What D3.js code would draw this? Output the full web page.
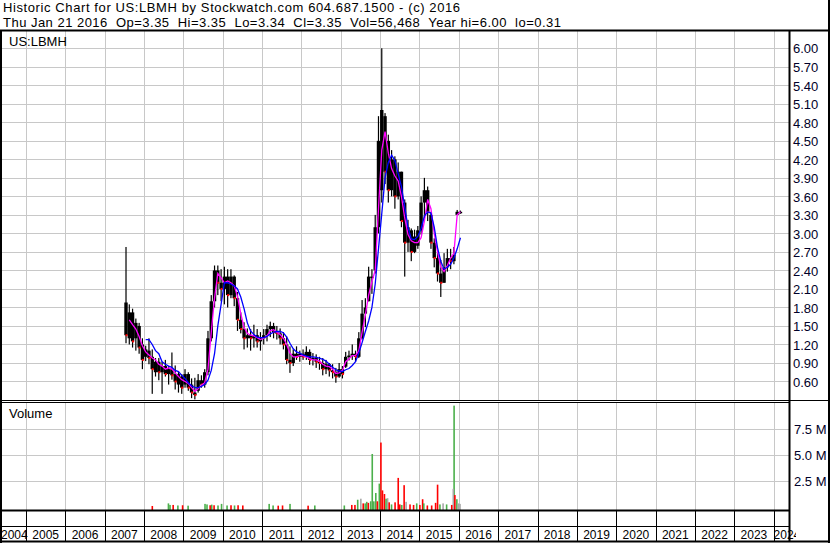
<!DOCTYPE html>
<html>
<head>
<meta charset="utf-8">
<script src="https://cdn.jsdelivr.net/npm/d3@7"></script>
<style>
  body { margin: 0; background: #fff; }
  svg text { font-family: "Liberation Sans", Arial, sans-serif; }
</style>
</head>
<body>
<script>
// monthly bars, first month Jul 2007, last Jan 2016
var firstYear = 2007, firstMonth = 6;

var open = [
  1.88, 1.30, 1.72, 1.30, 1.50, 1.20,
  1.00, 1.10, 1.00, 0.75, 0.92, 0.75, 0.85, 0.72, 0.80, 0.72, 0.55, 0.68,
  0.55, 0.72, 0.55, 0.42, 0.45, 0.62, 0.55, 0.75, 1.30, 1.90, 2.40, 2.20,
  2.10, 2.30, 2.00, 2.30, 1.95, 1.60, 1.45, 1.30, 1.35, 1.30, 1.35, 1.25,
  1.30, 1.35, 1.45, 1.50, 1.40, 1.38, 1.30, 1.20, 0.95, 0.90, 1.05, 1.00,
  1.05, 1.00, 1.08, 0.95, 0.98, 0.92, 0.90, 0.80, 0.88, 0.78, 0.75, 0.68,
  0.80, 0.84, 1.00, 1.02, 1.05, 1.00, 1.30, 1.70, 1.90, 2.30, 2.40, 3.10,
  3.70, 4.90, 4.50, 3.70, 4.20, 3.60, 4.00, 3.50, 2.85, 3.05, 2.70, 2.80,
  3.05, 3.50, 3.70, 3.30, 2.85, 2.60, 2.35, 2.20, 2.45, 2.60, 2.55, 3.30,
  3.35
];
var high = [
  2.78, 1.85, 1.78, 1.62, 1.55, 1.30,
  1.18, 1.30, 1.12, 0.98, 0.98, 0.92, 0.95, 0.85, 1.07, 0.86, 0.76, 0.72,
  0.80, 0.75, 0.65, 0.66, 0.72, 0.70, 0.80, 1.42, 2.00, 2.48, 2.48, 2.42,
  2.46, 2.42, 2.42, 2.32, 2.05, 1.72, 1.56, 1.46, 1.45, 1.52, 1.45, 1.40,
  1.45, 1.52, 1.57, 1.55, 1.50, 1.46, 1.40, 1.33, 1.17, 1.12, 1.17, 1.10,
  1.12, 1.17, 1.12, 1.06, 1.04, 1.00, 0.98, 0.95, 0.90, 0.88, 0.82, 0.90,
  0.85, 1.08, 1.10, 1.20, 1.10, 1.40, 1.92, 1.95, 2.46, 2.42, 3.30, 4.90,
  6.00, 4.95, 4.60, 4.35, 4.25, 4.15, 4.00, 3.55, 3.22, 3.08, 3.06, 3.12,
  3.60, 3.90, 3.76, 3.35, 2.92, 2.70, 2.57, 2.68, 2.75, 2.75, 2.78, 3.38,
  3.37
];
var low = [
  1.22, 1.20, 1.15, 1.10, 1.05, 0.80,
  0.93, 0.88, 0.40, 0.68, 0.62, 0.40, 0.68, 0.55, 0.63, 0.47, 0.42, 0.40,
  0.50, 0.45, 0.33, 0.31, 0.42, 0.50, 0.50, 0.70, 1.25, 1.80, 2.00, 1.90,
  1.85, 1.80, 1.95, 1.82, 1.42, 1.38, 1.12, 1.15, 1.10, 1.15, 1.15, 1.10,
  1.20, 1.25, 1.32, 1.30, 1.28, 1.20, 1.12, 0.88, 0.74, 0.85, 0.95, 0.92,
  0.95, 0.95, 0.87, 0.86, 0.82, 0.79, 0.70, 0.72, 0.68, 0.65, 0.58, 0.66,
  0.65, 0.82, 0.94, 0.95, 0.92, 0.98, 1.28, 1.48, 1.90, 2.02, 2.35, 3.00,
  3.50, 3.80, 3.50, 3.60, 3.40, 3.55, 3.10, 2.30, 2.70, 2.55, 2.68, 2.75,
  2.98, 3.25, 3.20, 2.75, 2.45, 2.22, 1.97, 2.20, 2.38, 2.42, 2.50, 3.30,
  3.32
];
var close = [
  1.35, 1.72, 1.25, 1.55, 1.15, 0.95,
  1.12, 0.98, 0.80, 0.92, 0.75, 0.85, 0.72, 0.80, 0.70, 0.60, 0.72, 0.50,
  0.72, 0.50, 0.42, 0.38, 0.62, 0.55, 0.75, 1.30, 1.90, 2.40, 2.20, 2.10,
  2.30, 2.00, 2.30, 1.95, 1.60, 1.45, 1.30, 1.35, 1.30, 1.35, 1.25, 1.30,
  1.35, 1.45, 1.50, 1.40, 1.38, 1.30, 1.20, 0.95, 0.90, 1.05, 1.00, 1.05,
  1.00, 1.08, 0.95, 0.98, 0.92, 0.90, 0.80, 0.88, 0.78, 0.75, 0.68, 0.80,
  0.72, 1.00, 1.02, 1.05, 1.00, 1.30, 1.70, 1.80, 2.30, 2.30, 3.10, 4.50,
  5.00, 4.00, 3.70, 4.20, 3.60, 4.00, 3.20, 2.85, 3.10, 2.70, 2.95, 3.05,
  3.50, 3.70, 3.35, 2.85, 2.60, 2.35, 2.20, 2.45, 2.60, 2.55, 2.65, 3.35,
  3.35
];
// short (magenta) and long (blue) moving averages as drawn
var maShort = [
  null, 1.60, 1.52, 1.45, 1.33, 1.18,
  1.08, 1.03, 0.98, 0.95, 0.88, 0.85, 0.80, 0.82, 0.80, 0.74, 0.68, 0.63,
  0.60, 0.57, 0.50, 0.44, 0.48, 0.54, 0.58, 0.80, 1.40, 1.95, 2.35, 2.28,
  2.20, 2.23, 2.20, 2.15, 1.98, 1.70, 1.48, 1.38, 1.35, 1.34, 1.31, 1.28,
  1.30, 1.34, 1.42, 1.44, 1.40, 1.36, 1.30, 1.20, 1.06, 1.00, 1.00, 1.02,
  1.02, 1.00, 0.97, 0.95, 0.95, 0.93, 0.88, 0.85, 0.84, 0.80, 0.73, 0.74,
  0.78, 0.92, 0.97, 1.02, 1.02, 1.10, 1.40, 1.68, 2.00, 2.22, 2.40, 3.40,
  4.35, 4.65, 4.30, 4.05, 3.93, 3.85, 3.60, 3.25, 2.98, 2.88, 2.85, 2.85,
  2.93, 3.20, 3.55, 3.40, 3.00, 2.70, 2.45, 2.38, 2.48, 2.60, 2.68, 3.30,
  3.35
];
var maLong = [
  null, null, null, null, null, null,
  1.28, 1.28, 1.20, 1.10, 1.05, 0.92, 0.88, 0.85, 0.83, 0.78, 0.76, 0.70,
  0.65, 0.58, 0.53, 0.50, 0.50, 0.52, 0.55, 0.62, 0.78, 1.05, 1.50, 1.85,
  2.20, 2.20, 2.18, 2.15, 2.10, 1.97, 1.78, 1.55, 1.42, 1.36, 1.32, 1.31,
  1.31, 1.33, 1.37, 1.40, 1.41, 1.41, 1.39, 1.32, 1.22, 1.13, 1.08, 1.06,
  1.03, 1.01, 1.00, 1.00, 0.99, 0.98, 0.96, 0.93, 0.88, 0.83, 0.79, 0.77,
  0.76, 0.79, 0.81, 0.86, 0.92, 1.06, 1.23, 1.41, 1.58, 1.80, 2.18, 2.75,
  3.32, 3.90, 4.15, 4.27, 4.18, 3.97, 3.76, 3.43, 3.10, 2.91, 2.90, 2.95,
  3.08, 3.28, 3.35, 3.33, 3.10, 2.77, 2.55, 2.42, 2.45, 2.50, 2.60, 2.75,
  2.93
];

// volume bars (date as decimal year, millions, g=up r=down n=unchanged)
var volDates = [
  2008.21, 2008.62, 2008.66, 2008.74, 2008.86, 2008.98, 2009.12,
  2009.55, 2009.60, 2009.68, 2009.72, 2009.78, 2009.88, 2009.97, 2010.11, 2010.21, 2010.30, 2010.39, 2010.51,
  2011.18, 2011.28, 2011.41, 2011.52, 2011.71, 2012.17, 2012.34,
  2013.09, 2013.28, 2013.36, 2013.43, 2013.51, 2013.57, 2013.62, 2013.66, 2013.70, 2013.76, 2013.80,
  2013.84, 2013.89, 2013.93, 2013.98, 2014.02, 2014.06, 2014.11, 2014.15, 2014.19, 2014.23, 2014.29,
  2014.38, 2014.46, 2014.50, 2014.55, 2014.61, 2014.66, 2014.76, 2014.85, 2014.93, 2015.01, 2015.08,
  2015.11, 2015.20, 2015.31, 2015.41, 2015.46, 2015.52, 2015.60, 2015.69, 2015.82, 2015.86, 2015.88,
  2015.90, 2015.95, 2015.99, 2016.03
];
var volValues = [
  0.05, 0.30, 0.15, 0.15, 0.10, 0.12, 0.08,
  0.25, 0.20, 0.12, 0.18, 0.12, 0.10, 0.25, 0.10, 0.12, 0.10, 0.12, 0.10,
  0.25, 0.10, 0.08, 0.10, 0.25, 0.08, 0.10,
  0.10, 0.15, 0.15, 0.65, 0.75, 0.30, 0.30, 0.45, 0.35, 0.50, 5.05,
  0.50, 1.30, 0.50, 2.20, 6.15, 1.55, 1.20, 0.75, 0.80, 0.40, 0.20,
  0.40, 2.75, 0.20, 0.15, 2.05, 0.45, 0.20, 0.15, 0.30, 0.15, 0.70,
  0.30, 0.10, 0.10, 0.35, 2.10, 0.20, 0.30, 0.20, 0.15, 1.70, 9.70,
  1.10, 0.70, 0.30, 0.25
];
var volDir = [
  "r", "g", "g", "r", "g", "r", "g",
  "g", "g", "r", "g", "r", "g", "g", "g", "r", "g", "r", "r",
  "g", "g", "r", "r", "g", "r", "g",
  "g", "r", "r", "g", "n", "r", "g", "g", "r", "g", "g",
  "g", "g", "r", "g", "r", "r", "r", "g", "n", "r", "g",
  "r", "r", "r", "g", "r", "n", "r", "r", "g", "r", "r",
  "g", "r", "r", "r", "r", "g", "n", "g", "r", "n", "g",
  "r", "g", "n", "n"
];

var years = d3.range(2004, 2025);
var priceTicks = [0.60, 0.90, 1.20, 1.50, 1.80, 2.10, 2.40, 2.70, 3.00, 3.30, 3.60, 3.90, 4.20, 4.50, 4.80, 5.10, 5.40, 5.70, 6.00];
var volTicks = [2.5, 5.0, 7.5];

var header1 = "Historic Chart for US:LBMH by Stockwatch.com 604.687.1500 - (c) 2016";
var header2 = "Thu Jan 21 2016  Op=3.35  Hi=3.35  Lo=3.34  Cl=3.35  Vol=56,468  Year hi=6.00  lo=0.31";

var width = 830, height = 543;
var plotL = 1, plotR = 789.5;
var priceTop = 31, priceBot = 400.5, volTop = 402.5, volBot = 510.5;
var axisMid = 526.5, axisBot = 541.5;

var x = d3.scaleLinear().domain([2005, 2024]).range([26, 773.6]);
var y = d3.scaleLinear().domain([0.3, 6.0]).range([400, 48.3]);
var yv = d3.scaleLinear().domain([0, 10]).range([506.5, 402.5]);

var bars = open.map(function (d, i) {
  var m = firstMonth + i;
  return {
    t: firstYear + (m + 0.5) / 12,
    open: d, high: high[i], low: low[i], close: close[i],
    maS: maShort[i], maL: maLong[i]
  };
});

var vols = volDates.map(function (d, i) {
  return { t: d, v: volValues[i], dir: volDir[i] };
}).sort(function (a, b) { return b.v - a.v; });

var svg = d3.select("body").append("svg")
  .attr("width", width)
  .attr("height", height);

svg.append("rect").attr("width", width).attr("height", height).attr("fill", "#fff");

var defs = svg.append("defs");
defs.append("clipPath").attr("id", "clipPrice")
  .append("rect").attr("x", plotL).attr("y", priceTop).attr("width", plotR - plotL).attr("height", priceBot - priceTop);
defs.append("clipPath").attr("id", "clipVol")
  .append("rect").attr("x", plotL).attr("y", volTop).attr("width", plotR - plotL).attr("height", volBot - volTop);
defs.append("clipPath").attr("id", "clipAxis")
  .append("rect").attr("x", plotL).attr("y", volBot).attr("width", 796 - plotL).attr("height", axisBot - volBot);

// header
svg.append("text").attr("x", 3).attr("y", 12).attr("font-size", 13).attr("fill", "#000")
  .attr("letter-spacing", 0.6).style("white-space", "pre").text(header1);
svg.append("text").attr("x", 3).attr("y", 26.5).attr("font-size", 13).attr("fill", "#000")
  .attr("letter-spacing", 0.48).style("white-space", "pre").text(header2);

// grid
var gridColor = "#c8c8c8";
var priceGrid = svg.append("g").attr("clip-path", "url(#clipPrice)");
priceGrid.selectAll("line.h").data(priceTicks).enter().append("line")
  .attr("x1", plotL).attr("x2", plotR)
  .attr("y1", function (d) { return Math.round(y(d)) + 0.5; })
  .attr("y2", function (d) { return Math.round(y(d)) + 0.5; })
  .attr("stroke", gridColor);
priceGrid.selectAll("line.v").data(years).enter().append("line")
  .attr("x1", function (d) { return Math.round(x(d)) + 0.5; })
  .attr("x2", function (d) { return Math.round(x(d)) + 0.5; })
  .attr("y1", priceTop).attr("y2", priceBot)
  .attr("stroke", gridColor);

var volGrid = svg.append("g").attr("clip-path", "url(#clipVol)");
volGrid.selectAll("line.h").data(volTicks).enter().append("line")
  .attr("x1", plotL).attr("x2", plotR)
  .attr("y1", function (d) { return Math.round(yv(d)) + 0.5; })
  .attr("y2", function (d) { return Math.round(yv(d)) + 0.5; })
  .attr("stroke", gridColor);
volGrid.selectAll("line.v").data(years).enter().append("line")
  .attr("x1", function (d) { return Math.round(x(d)) + 0.5; })
  .attr("x2", function (d) { return Math.round(x(d)) + 0.5; })
  .attr("y1", volTop).attr("y2", volBot)
  .attr("stroke", gridColor);

// price bars
var price = svg.append("g").attr("clip-path", "url(#clipPrice)");
price.selectAll("rect.wick").data(bars).enter().append("rect")
  .attr("x", function (d) { return x(d.t) - 0.6; })
  .attr("width", 1.2)
  .attr("y", function (d) { return y(d.high); })
  .attr("height", function (d) { return Math.max(1, y(d.low) - y(d.high)); })
  .attr("fill", "#000");
price.selectAll("rect.body").data(bars).enter().append("rect")
  .attr("x", function (d) { return x(d.t) - 1.7; })
  .attr("width", 3.4)
  .attr("y", function (d) { return y(Math.max(d.open, d.close)); })
  .attr("height", function (d) { return Math.max(1.5, Math.abs(y(d.open) - y(d.close))); })
  .attr("fill", "#000");
price.selectAll("rect.dn").data(bars.filter(function (d) { return d.close < d.open; })).enter().append("rect")
  .attr("x", function (d) { return x(d.t) - 0.5; })
  .attr("width", 2)
  .attr("y", function (d) { return y(d.close) - 1; })
  .attr("height", 2)
  .attr("fill", "#ff0000");

var lineS = d3.line()
  .defined(function (d) { return d.maS != null; })
  .x(function (d) { return x(d.t); })
  .y(function (d) { return y(d.maS); });
var lineL = d3.line()
  .defined(function (d) { return d.maL != null; })
  .x(function (d) { return x(d.t); })
  .y(function (d) { return y(d.maL); });

price.append("path").datum(bars).attr("d", lineS)
  .attr("fill", "none").attr("stroke", "#ff00ff").attr("stroke-width", 1.3);
price.append("path").datum(bars).attr("d", lineL)
  .attr("fill", "none").attr("stroke", "#0000ff").attr("stroke-width", 1.3);

// volume
var volColor = { g: "#4cb04c", r: "#ff0000", n: "#a8a8a8" };
var vol = svg.append("g").attr("clip-path", "url(#clipVol)");
vol.selectAll("rect").data(vols).enter().append("rect")
  .attr("x", function (d) { return x(d.t) - 0.8; })
  .attr("width", 1.6)
  .attr("y", function (d) { return yv(d.v); })
  .attr("height", function (d) { return volBot - yv(d.v); })
  .attr("fill", function (d) { return volColor[d.dir]; });

// panel labels
svg.append("text").attr("x", 9).attr("y", 46).attr("font-size", 13).attr("fill", "#000").text("US:LBMH");
svg.append("text").attr("x", 9).attr("y", 417.5).attr("font-size", 13).attr("fill", "#000").text("Volume");

// right axis labels
var yAxis = d3.axisRight(y).tickValues(priceTicks).tickSize(0).tickPadding(0)
  .tickFormat(d3.format(".2f"));
var ya = svg.append("g").attr("transform", "translate(793,0)").call(yAxis);
ya.select(".domain").remove();
ya.selectAll("text").attr("font-size", 13).attr("font-family", null).attr("fill", "#000028").attr("dy", "0.36em");

var vAxis = d3.axisRight(yv).tickValues(volTicks).tickSize(0).tickPadding(0)
  .tickFormat(function (d) { return d3.format(".1f")(d) + " M"; });
var va = svg.append("g").attr("transform", "translate(794,0)").call(vAxis);
va.select(".domain").remove();
va.selectAll("text").attr("font-size", 13).attr("font-family", null).attr("fill", "#000028").attr("dy", "0.36em");

// time axis strip
var xa = svg.append("g").attr("clip-path", "url(#clipAxis)");
xa.selectAll("line").data(years).enter().append("line")
  .attr("x1", function (d) { return Math.round(x(d)) + 0.5; })
  .attr("x2", function (d) { return Math.round(x(d)) + 0.5; })
  .attr("y1", volBot).attr("y2", axisBot)
  .attr("stroke", "#000");
xa.selectAll("text").data(years).enter().append("text")
  .attr("x", function (d) {
    var a = x(d), b = x(d + 1);
    if (a < plotL) return plotL;
    if (b > plotR) return a;
    return (a + b) / 2;
  })
  .attr("text-anchor", function (d) {
    return (x(d) < plotL || x(d + 1) > plotR) ? "start" : "middle";
  })
  .attr("y", 539)
  .attr("font-size", 12)
  .attr("fill", "#000")
  .text(function (d) { return d; });

// frame lines
function hline(y0, x1, x2, w) {
  svg.append("line").attr("x1", x1).attr("x2", x2).attr("y1", y0).attr("y2", y0)
    .attr("stroke", "#000").attr("stroke-width", w || 1);
}
function vline(x0, y1, y2, w) {
  svg.append("line").attr("x1", x0).attr("x2", x0).attr("y1", y1).attr("y2", y2)
    .attr("stroke", "#000").attr("stroke-width", w || 1);
}
hline(30.5, 0, width, 2);
hline(priceBot, 0, width, 1);
hline(volTop, 0, plotR, 1);
hline(volBot, 0, plotR, 2);
hline(axisMid, 0, plotR, 1);
hline(axisBot, 0, width, 2);
vline(1, 30, height, 2);
vline(plotR, 30, axisBot, 2);
vline(829, 0, height, 2);
</script>
</body>
</html>
